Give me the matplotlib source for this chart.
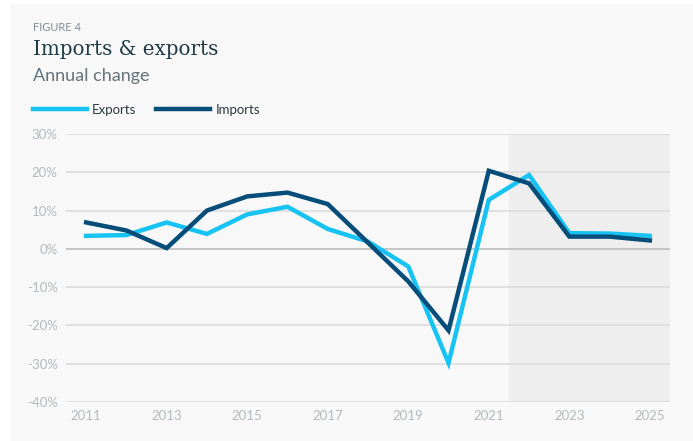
import matplotlib.pyplot as plt
from matplotlib.patches import Rectangle
from matplotlib.ticker import FuncFormatter

years = list(range(2011, 2026))
exports = [3.4, 3.6, 6.9, 3.9, 9.0, 11.0, 5.2, 1.9, -4.6, -29.8, 12.8, 19.3, 4.1, 4.0, 3.4]
imports = [6.9, 4.8, 0.2, 10.0, 13.7, 14.7, 11.7, 1.6, -8.5, -21.3, 20.4, 17.1, 3.2, 3.2, 2.2]
year_ticks = list(range(2011, 2026, 2))
pct_ticks = [30, 20, 10, 0, -10, -20, -30, -40]
forecast_start = 2021.5

BG = '#f8f8f8'
LABEL = '#b3babf'

fig = plt.figure(figsize=(6.93, 4.41), dpi=100, facecolor='white')
fig.patches.append(Rectangle((10 / 693, 0), 1, 437 / 441, transform=fig.transFigure,
                             facecolor=BG, edgecolor='none', zorder=-10))

ax = fig.add_axes([66 / 693, 1 - 402 / 441, 604 / 693, 268 / 441])
ax.set_facecolor(BG)

ax.axvspan(forecast_start, 2025.5, color='#eeeeee', zorder=0, lw=0)

for t in pct_ticks:
    ax.axhline(t, color='#bdbdbd' if t == 0 else '#dcdcdc', lw=1.2, zorder=1)

ax.plot(years, exports, color='#17c3f2', lw=3.2, label='Exports', zorder=3,
        solid_joinstyle='miter')
ax.plot(years, imports, color='#074d7a', lw=3.2, label='Imports', zorder=4,
        solid_joinstyle='miter')

ax.set_xlim(2010.5, 2025.5)
ax.set_ylim(-40, 30)
ax.set_xticks(year_ticks)
ax.set_yticks(pct_ticks)
ax.yaxis.set_major_formatter(FuncFormatter(lambda v, p: f'{v:.0f}%'))
ax.tick_params(length=0, colors=LABEL, labelsize=9.5, pad=6)
for lab in ax.get_xticklabels() + ax.get_yticklabels():
    lab.set_family('Lato')
for s in ax.spines.values():
    s.set_visible(False)

fig.text(33 / 693, 1 - 31 / 441, 'FIGURE 4', fontsize=8, color='#7f8c92',
         family='Lato', va='baseline')
fig.text(33 / 693, 1 - 55 / 441, 'Imports & exports', fontsize=14.3, color='#1d3a45',
         family='DejaVu Serif', va='baseline')
fig.text(33 / 693, 1 - 81 / 441, 'Annual change', fontsize=13, color='#66737a',
         family='Lato', va='baseline')

leg = fig.legend(loc='center left', bbox_to_anchor=(33 / 693, 1 - 110 / 441), ncol=2,
                 frameon=False, handlelength=4.1, handletextpad=0.38,
                 columnspacing=1.5, borderpad=0, borderaxespad=0,
                 prop={'family': 'Lato', 'size': 9.5})
for t in leg.get_texts():
    t.set_color('#2a3a40')

fig.savefig('out.png', dpi=100, facecolor=fig.get_facecolor())
